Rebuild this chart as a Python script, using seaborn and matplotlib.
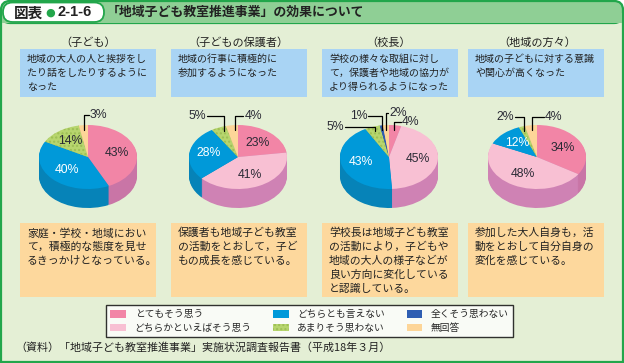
import numpy as np
import pandas as pd
import matplotlib.pyplot as plt
import matplotlib.patches as mpatches
import seaborn as sns

sns.set_theme(style="white")
plt.rcParams["font.family"] = ["Noto Sans CJK JP", "DejaVu Sans"]

# answer categories, clockwise from 12 o'clock
categories = ["とてもそう思う", "どちらかといえばそう思う", "どちらとも言えない",
              "あまりそう思わない", "全くそう思わない", "無回答"]
groups = ["（子ども）", "（子どもの保護者）", "（校長）", "（地域の方々）"]

kodomo = [43, 0, 40, 14, 0, 3]
hogosha = [23, 41, 28, 5, 0, 4]
kocho = [4, 45, 43, 5, 1, 2]
chiiki = [34, 48, 12, 2, 0, 4]

question_text = [
    "地域の大人の人と挨拶をし\nたり話をしたりするように\nなった",
    "地域の行事に積極的に\n参加するようになった",
    "学校の様々な取組に対し\nて，保護者や地域の協力が\nより得られるようになった",
    "地域の子どもに対する意識\nや関心が高くなった",
]
comment_text = [
    "家庭・学校・地域におい\nて，積極的な態度を見せ\nるきっかけとなっている。",
    "保護者も地域子ども教室\nの活動をとおして，子ど\nもの成長を感じている。",
    "学校長は地域子ども教室\nの活動により，子どもや\n地域の大人の様子などが\n良い方向に変化している\nと認識している。",
    "参加した大人自身も，活\n動をとおして自分自身の\n変化を感じている。",
]

df = pd.DataFrame([kodomo, hogosha, kocho, chiiki], index=groups, columns=categories)

top_colors = sns.color_palette(["#f285a6", "#f8c0d3", "#0099d9", "#b7d56e", "#2f5eb2", "#fdd598"])
side_colors = sns.color_palette(["#c975a6", "#cf82b4", "#0683b8", "#97b553", "#234a92", "#dab47c"])

# layout (pixels)
W, H = 624, 363
centers = [88, 238, 389, 537]
cy = 157
A, B, DEPTH = 49, 32, 19
box_left = [20, 171, 322, 468]
box_w = 136
# small-slice leader lines: category index -> (rise px, run px)
leaders = [
    {5: (42, 5)},
    {3: (41, -17), 5: (41, 8)},
    {0: (35, 7), 3: (30, -30), 4: (41, -14), 5: (44, 2)},
    {3: (40, -9), 5: (40, 12)},
]

fig = plt.figure(figsize=(W / 100, H / 100), dpi=100)
bg = fig.add_axes([0, 0, 1, 1])
bg.set_xlim(0, W)
bg.set_ylim(H, 0)
bg.axis("off")

green = "#22a64b"
band = "#8fcf95"
body = "#e4efd5"
bg.add_patch(mpatches.Rectangle((1, 14), W - 2, H - 15, fc=body, ec=green, lw=1.6))
bg.add_patch(mpatches.FancyBboxPatch((1, 1), W - 2, 22, boxstyle="round,pad=0,rounding_size=9",
                                     fc=band, ec=green, lw=1.6))
bg.add_patch(mpatches.Rectangle((1.8, 13), W - 3.6, 10, fc=band, ec="none"))
bg.add_patch(mpatches.FancyBboxPatch((3, 2.5), 101, 19.5, boxstyle="round,pad=0,rounding_size=9.5",
                                     fc="white", ec=green, lw=1.3))
bg.text(14, 12.5, "図表", fontsize=10.5, fontweight="bold", va="center", ha="left", color="#222222")
bg.text(50.5, 12.5, "●", fontsize=8, va="center", ha="center", color="#22a64b",
        family=["DejaVu Sans"])
bg.text(57, 12.5, "2-1-6", fontsize=10.5, fontweight="bold", va="center", ha="left",
        color="#222222", family=["Liberation Sans", "DejaVu Sans"])
bg.text(107, 12, "「地域子ども教室推進事業」の効果について", fontsize=9.3, fontweight="bold",
        va="center", ha="left", color="#222222")

for i in range(4):
    bg.text(centers[i], 43, groups[i], fontsize=8, ha="center", va="center", color="#222222")
    bg.add_patch(mpatches.Rectangle((box_left[i], 49), box_w, 48, fc="#a9d4f4", ec="none"))
    for j, line in enumerate(question_text[i].split("\n")):
        bg.text(box_left[i] + 7, 59 + j * 14, line, fontsize=7.2, ha="left", va="center", color="#222222")
    bg.add_patch(mpatches.Rectangle((box_left[i], 223), box_w, 74, fc="#fdd89d", ec="none"))
    for j, line in enumerate(comment_text[i].split("\n")):
        bg.text(box_left[i] + 7, 233 + j * 14, line, fontsize=7.8, ha="left", va="center", color="#222222")

bg.text(15, 348, "（資料）「地域子ども教室推進事業」実施状況調査報告書（平成18年３月）",
        fontsize=7.9, ha="left", va="center", color="#222222")

legend_handles = None
for i, g in enumerate(groups):
    vals = df.loc[g].values
    cx = centers[i]
    ax = fig.add_axes([(cx - 75) / W, 1 - (cy + 70) / H, 150 / W, 125 / H])
    for k in np.arange(DEPTH, 0, -1):
        ax.pie(vals, colors=side_colors, startangle=90, counterclock=False, radius=1,
               center=(0, -k / B), wedgeprops=dict(linewidth=0))
    wedges, _ = ax.pie(vals, colors=top_colors, startangle=90, counterclock=False, radius=1,
                       center=(0, 0), wedgeprops=dict(linewidth=0))
    wedges[3].set_hatch("....")
    wedges[3].set_edgecolor("#9dbf55")
    if i == 2:
        legend_handles = wedges
    ax.set_aspect("auto")
    ax.set_xlim(-75 / A, 75 / A)
    ax.set_ylim(-70 / B, 55 / B)
    ax.axis("off")

    start = 0
    for c, v in enumerate(vals):
        mid = np.deg2rad((start + v / 2) / 100 * 360)
        start += v
        if v == 0:
            continue
        col = "white" if c == 2 else "#2a2a35"
        lab = f"{v}%"
        if c in leaders[i]:
            rise, run = leaders[i][c]
            x0, y0 = 0.85 * np.sin(mid), 0.85 * np.cos(mid)
            y1 = rise / B
            x1 = x0 + run / A
            ax.plot([x0, x0, x1], [y0, y1, y1], color="black", lw=0.9, clip_on=False)
            ax.text(x1 + np.sign(run) * 1 / A, y1, lab, fontsize=8.8, color="#2a2a35",
                    ha="left" if run > 0 else "right", va="center",
                    family=["Liberation Sans", "DejaVu Sans"])
        else:
            r = 0.6
            ax.text(r * np.sin(mid), r * np.cos(mid), lab, fontsize=8.8, color=col,
                    ha="center", va="center", family=["Liberation Sans", "DejaVu Sans"])

leg = fig.legend(legend_handles, categories, ncol=3, loc="upper left",
                 bbox_to_anchor=(106 / W, 1 - 305 / H), frameon=True, fancybox=False,
                 edgecolor="black", fontsize=7, handlelength=1.6, handleheight=0.8,
                 handletextpad=0.9, columnspacing=2.2, borderpad=0.45, labelspacing=0.35,
                 borderaxespad=0)
leg.get_frame().set_linewidth(1.0)
leg.get_frame().set_facecolor("white")

plt.savefig("out.png", dpi=100)
